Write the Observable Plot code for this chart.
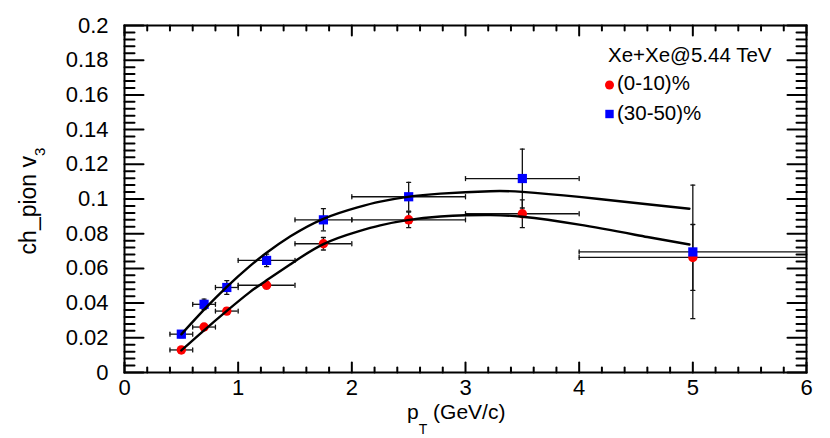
<!DOCTYPE html>
<html><head><meta charset="utf-8">
<script src="https://cdn.jsdelivr.net/npm/d3@7"></script>
<script src="https://cdn.jsdelivr.net/npm/@observablehq/plot@0.6"></script>
<style>
body{margin:0;background:#fff;}
#chart{width:830px;height:438px;}
svg text{font-family:"Liberation Sans",Arial,Helvetica,sans-serif;}
</style>
</head><body><div id="chart"></div>
<script>
// ---- data ----
const pt       = [0.5, 0.7, 0.9, 1.25, 1.75, 2.5, 3.5, 5.0];
const ptErr    = [0.1, 0.1, 0.1, 0.25, 0.25, 0.5, 0.5, 1.0];
const v3Cent   = [0.0130, 0.0262, 0.0354, 0.0503, 0.0742, 0.0880, 0.0915, 0.0663];
const v3CentEr = [0.0015, 0.0015, 0.0018, 0.0020, 0.0036, 0.0045, 0.0080, 0.0190];
const v3Mid    = [0.0221, 0.0393, 0.0490, 0.0646, 0.0880, 0.1013, 0.1118, 0.0695];
const v3MidEr  = [0.0020, 0.0030, 0.0040, 0.0036, 0.0064, 0.0083, 0.0170, 0.0385];

const fitCentX = [0.5, 0.7, 0.9, 1.1, 1.25, 1.46, 1.75, 2.05, 2.25, 2.49, 2.78, 3.0, 3.22, 3.5, 4.0, 4.6, 4.97];
const fitCentY = [0.0127, 0.0243, 0.0355, 0.0462, 0.0531, 0.0624, 0.0740, 0.0812, 0.0848, 0.0878, 0.0899, 0.0906, 0.0907, 0.0898, 0.0852, 0.0781, 0.0738];
const fitMidX  = [0.5, 0.7, 0.9, 1.1, 1.25, 1.46, 1.75, 2.05, 2.25, 2.49, 2.78, 3.22, 3.5, 4.0, 4.6, 4.97];
const fitMidY  = [0.0220, 0.0362, 0.0494, 0.0612, 0.0690, 0.0785, 0.0886, 0.0952, 0.0985, 0.1012, 0.1031, 0.1045, 0.1041, 0.1012, 0.0970, 0.0944];

const xMajor  = [0, 1, 2, 3, 4, 5, 6];
const xLabels = ["0", "1", "2", "3", "4", "5", "6"];
const yMajor  = [0, 0.02, 0.04, 0.06, 0.08, 0.1, 0.12, 0.14, 0.16, 0.18, 0.2];
const yLabels = ["0", "0.02", "0.04", "0.06", "0.08", "0.1", "0.12", "0.14", "0.16", "0.18", "0.2"];
const xMinor = d3.range(0, 6.0001, 0.2).filter(v => Math.abs(v - Math.round(v)) > 1e-6);
const yMinor = d3.range(0, 0.20001, 0.004).filter(v => Math.abs(v / 0.02 - Math.round(v / 0.02)) > 1e-6);

const legendTitle = "Xe+Xe@5.44 TeV";
const seriesNames = ["(0-10)%", "(30-50)%"];
const seriesColors = ["#ff0000", "#0000ff"];

// ---- build tables ----
const cent = pt.map((x, i) => ({pt: x, ex: ptErr[i], v3: v3Cent[i], ey: v3CentEr[i]}));
const mid  = pt.map((x, i) => ({pt: x, ex: ptErr[i], v3: v3Mid[i], ey: v3MidEr[i]}));
const fitCent = fitCentX.map((x, i) => ({x, y: fitCentY[i]}));
const fitMid  = fitMidX.map((x, i) => ({x, y: fitMidY[i]}));

const seg = {draw(ctx, l) { ctx.moveTo(0, 0); ctx.lineTo(0, -l); }};
function tickMarks(data, key, frameAnchor, rotate, length) {
  return Plot.vector(data, {[key]: d => d, frameAnchor, rotate, length, anchor: "start",
    shape: seg, stroke: "black", strokeWidth: 2});
}
function errMarks(rows) {
  const ends = rows.flatMap(d => [{x: d.pt - d.ex, y: d.v3}, {x: d.pt + d.ex, y: d.v3}]);
  const vends = rows.flatMap(d => [{x: d.pt, y: d.v3 - d.ey}, {x: d.pt, y: d.v3 + d.ey}]);
  const st = {stroke: "#111", strokeWidth: 1.3};
  return [
    Plot.ruleY(rows, {y: "v3", x1: d => d.pt - d.ex, x2: d => d.pt + d.ex, ...st}),
    Plot.ruleX(rows, {x: "pt", y1: d => d.v3 - d.ey, y2: d => d.v3 + d.ey, ...st}),
    Plot.vector(ends, {x: "x", y: "y", length: 4, rotate: 0, anchor: "middle", shape: seg, ...st}),
    Plot.vector(vends, {x: "x", y: "y", length: 4, rotate: 90, anchor: "middle", shape: seg, ...st})
  ];
}

const chart = Plot.plot({
  width: 830, height: 438,
  marginLeft: 124, marginRight: 24, marginTop: 25, marginBottom: 66,
  x: {domain: [0, 6], axis: null},
  y: {domain: [0, 0.2], axis: null},
  marks: [
    ...errMarks(cent),
    ...errMarks(mid),
    Plot.dot(cent, {x: "pt", y: "v3", r: 4.7, fill: seriesColors[0]}),
    Plot.dot(mid, {x: "pt", y: "v3", r: 5.2, symbol: "square", fill: seriesColors[1]}),
    Plot.line(fitCent, {x: "x", y: "y", curve: "natural", stroke: "black", strokeWidth: 2.4}),
    Plot.line(fitMid, {x: "x", y: "y", curve: "natural", stroke: "black", strokeWidth: 2.4}),
    tickMarks(xMajor, "x", "bottom", 0, 10),
    tickMarks(xMinor, "x", "bottom", 0, 5),
    tickMarks(xMajor, "x", "top", 180, 10),
    tickMarks(xMinor, "x", "top", 180, 5),
    tickMarks(yMajor, "y", "left", 90, 19),
    tickMarks(yMinor, "y", "left", 90, 10),
    tickMarks(yMajor, "y", "right", -90, 19),
    tickMarks(yMinor, "y", "right", -90, 10),
    Plot.frame({stroke: "black", strokeWidth: 2}),
    Plot.text(xMajor, {x: d => d, text: (d, i) => xLabels[i], frameAnchor: "bottom", dy: 15,
      lineAnchor: "middle", fontSize: 22, fill: "black"}),
    Plot.text(yMajor, {y: d => d, text: (d, i) => yLabels[i], frameAnchor: "left", dx: -16,
      textAnchor: "end", lineAnchor: "middle", fontSize: 22, fill: "black"})
  ]
});
document.getElementById("chart").appendChild(chart);

// ---- titles & legend ----
const svg = d3.select(chart);
const xt = svg.append("text").attr("x", 407).attr("y", 419).attr("text-anchor", "start")
  .attr("font-size", 21).attr("fill", "black");
xt.append("tspan").text("p");
xt.append("tspan").attr("font-size", 14).attr("dy", 15).text("T");
xt.append("tspan").attr("dy", -15).text(" (GeV/c)");

const yt = svg.append("text").attr("transform", "translate(36,201) rotate(-90)")
  .attr("text-anchor", "middle").attr("font-size", 23).attr("fill", "black");
yt.append("tspan").text("ch_pion v");
yt.append("tspan").attr("font-size", 15).attr("dy", 9).text("3");

const lg = svg.append("g").attr("text-anchor", "start").attr("font-size", 20.5).attr("fill", "black");
lg.append("text").attr("x", 608).attr("y", 62).text(legendTitle);
lg.append("circle").attr("cx", 609.5).attr("cy", 85).attr("r", 4.5).attr("fill", seriesColors[0]);
lg.append("text").attr("x", 617).attr("y", 90).text(seriesNames[0]);
lg.append("rect").attr("x", 605.3).attr("y", 109.8).attr("width", 8.4).attr("height", 8.4).attr("fill", seriesColors[1]);
lg.append("text").attr("x", 617).attr("y", 120).text(seriesNames[1]);
</script>
</body></html>
